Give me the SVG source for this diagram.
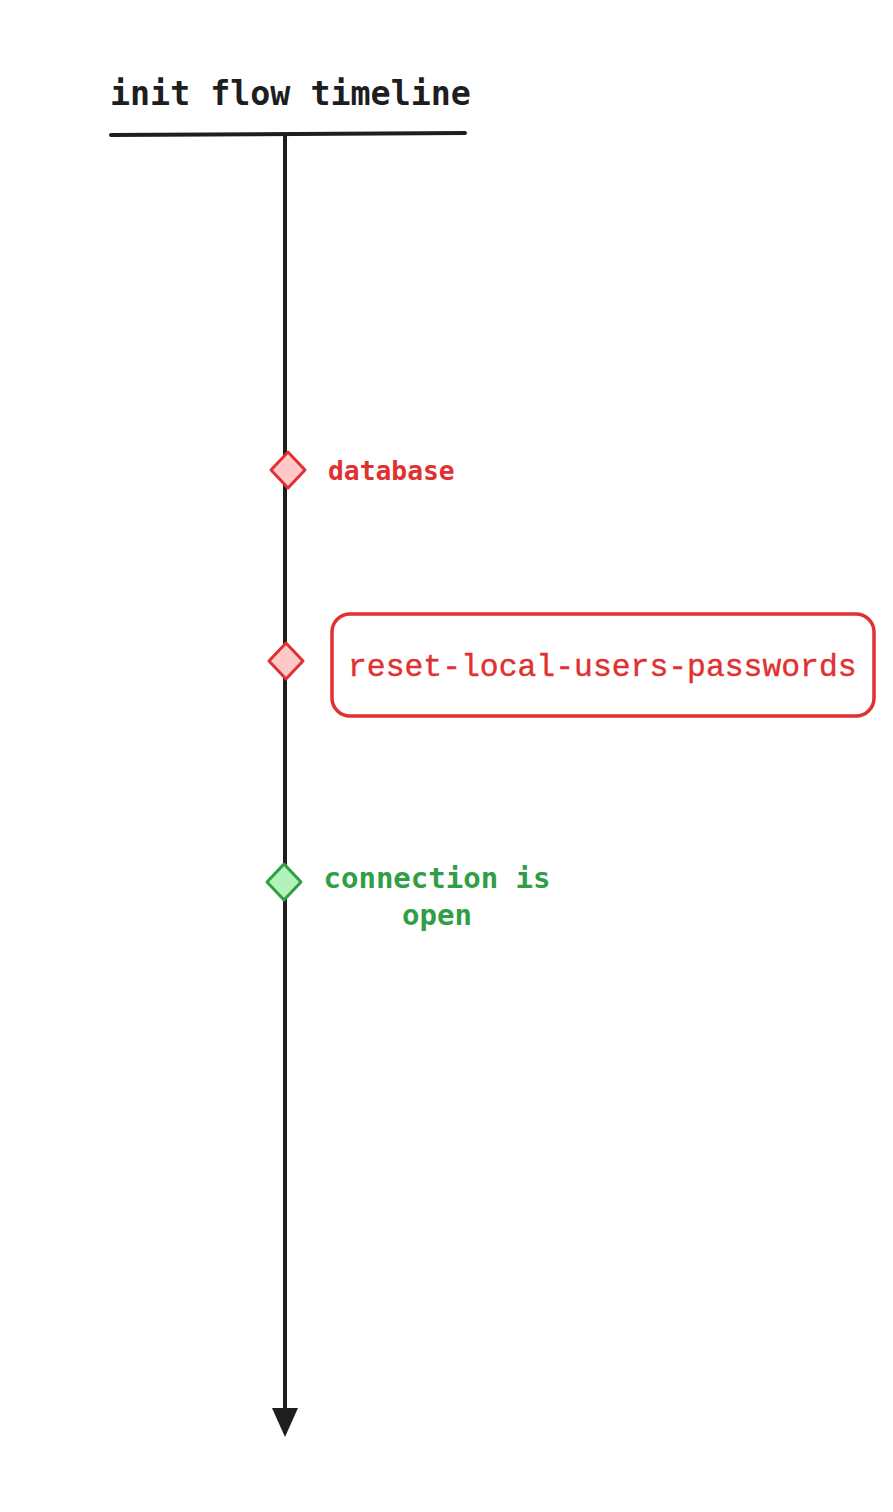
<svg xmlns="http://www.w3.org/2000/svg" width="893" height="1512" viewBox="0 0 893 1512">
<defs>
<style>
.line{stroke:#1e1e1e;stroke-width:4;fill:none;stroke-linecap:round}
.mono{font-family:"DejaVu Sans Mono","Liberation Mono",monospace;font-weight:bold}
.red{fill:#e03131}
.green{fill:#2f9e44}
.dred{fill:#ffc9c9;stroke:#e03131;stroke-width:3;stroke-linejoin:round}
.dgreen{fill:#b2f2bb;stroke:#2f9e44;stroke-width:3;stroke-linejoin:round}
</style>
</defs>
<rect width="893" height="1512" fill="#ffffff"/>
<g id="title">
<text class="mono" x="110" y="105" font-size="33.3" fill="#1e1e1e">init flow timeline</text>
<line class="line" x1="111" y1="135" x2="465" y2="133"/>
</g>
<g id="connectors">
<path d="M285,135 L285,1408" stroke="#1e1e1e" stroke-width="4" fill="none"/>
<path d="M272,1408 L298,1408 L285,1437 Z" fill="#1e1e1e"/>
</g>
<g id="database">
<path class="dred" d="M288,452 L305,470 L288,488 L271,470 Z"/>
<text class="mono red" x="328" y="480" font-size="26.3">database</text>
</g>
<g id="reset">
<path class="dred" d="M286,643 L303,661 L286,679 L269,661 Z"/>
<rect x="332" y="614" width="542" height="102" rx="18" fill="none" stroke="#e03131" stroke-width="3.5"/>
<text x="348" y="676" font-size="31.4" font-family="'Liberation Mono','DejaVu Sans Mono',monospace" fill="#e03131" stroke="#e03131" stroke-width="0.4">reset-local-users-passwords</text>
</g>
<g id="connection">
<path class="dgreen" d="M284,864 L301,882 L284,900 L267,882 Z"/>
<text class="mono green" x="437" y="888" font-size="29" text-anchor="middle">connection is</text>
<text class="mono green" x="437" y="925" font-size="29" text-anchor="middle">open</text>
</g>
</svg>
